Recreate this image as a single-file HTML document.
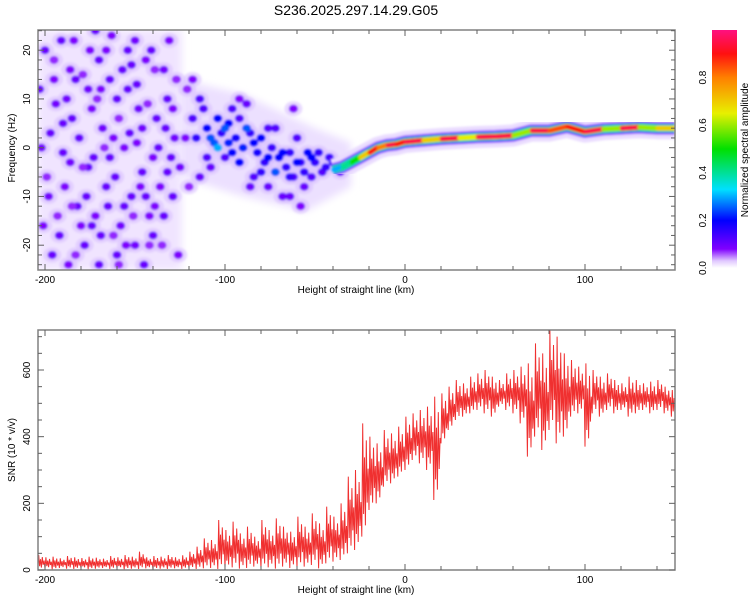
<!DOCTYPE html>
<html><head><meta charset="utf-8"><style>
body{margin:0;background:#fff;}
svg text{font-family:"Liberation Sans",sans-serif;fill:#000;}
</style></head><body>
<svg id="chart" width="750" height="600" viewBox="0 0 750 600" xmlns="http://www.w3.org/2000/svg">
<defs>
<linearGradient id="cmap" x1="0" y1="1" x2="0" y2="0">
<stop offset="0" stop-color="#ffffff"/><stop offset="0.03" stop-color="#e0c8ff"/>
<stop offset="0.08" stop-color="#8000ff"/><stop offset="0.2" stop-color="#0000ff"/>
<stop offset="0.33" stop-color="#00e0ff"/><stop offset="0.5" stop-color="#00e000"/>
<stop offset="0.65" stop-color="#e8f000"/><stop offset="0.8" stop-color="#ff8000"/>
<stop offset="0.9" stop-color="#ff1010"/><stop offset="1" stop-color="#ff1080"/>
</linearGradient>
<filter id="blur"><feGaussianBlur stdDeviation="1"/></filter>
<filter id="blur4"><feGaussianBlur stdDeviation="4"/></filter>
<clipPath id="clipTop"><rect x="38" y="30" width="637" height="240"/></clipPath>
<clipPath id="clipBot"><rect x="38" y="330" width="637" height="240"/></clipPath>
</defs>
<text x="356" y="15" font-size="14" text-anchor="middle">S236.2025.297.14.29.G05</text>
<g id="topPanel"></g>
<g id="botPanel"></g>
<g id="cbarPanel"></g>
</svg>
<script>
// ---- data ----
const snrBinStart = -204, snrBinStep = 4;
const snrHi = [45,38,40,35,42,38,36,40,37,34,42,38,45,40,55,38,42,40,45,38,44,
 55,70,95,90,150,120,145,110,130,100,150,120,155,130,115,160,
 130,170,140,190,160,200,280,300,
 440,400,380,420,410,430,
 460,470,480,490,520,530,550,570,560,580,590,600,580,570,590,
 600,610,620,680,650,720,700,650,630,610,
 620,600,580,590,570,560,580,570,560,565,570,550,540];
const snrLo = [3,5,2,6,4,3,5,2,4,6,3,5,2,4,3,5,2,4,3,5,3,
 4,3,5,6,3,5,8,4,6,10,5,8,4,10,6,8,
 10,15,5,20,25,30,50,60,
 100,180,200,250,260,280,
 300,330,320,300,210,380,420,450,460,470,480,470,460,490,480,
 470,440,340,400,360,420,380,400,460,470,
 370,470,460,480,470,480,460,470,480,470,480,470,460];
const ridgeX = [-40,-35,-30,-25,-20,-15,-10,-5,0,10,20,30,40,50,60,70,80,90,100,110,120,130,140,150];
const ridgeF = [-4.5,-4,-3,-2,-1,0,0.5,0.7,1.2,1.5,1.8,2,2.2,2.3,2.5,3.5,3.5,4.3,3.3,3.8,4,4.2,4,4];
const ridgeA = [0.3,0.4,0.5,0.7,0.9,0.8,0.95,0.9,0.95,0.7,0.95,0.65,0.95,0.95,0.6,0.95,0.85,0.9,0.95,0.6,0.95,0.6,0.7,0.95];
const blobs = [
[-200,20,0.1],[-195,14,0.08],[-190,5,0.1],[-186,-3,0.09],[-182,-12,0.1],[-178,-20,0.1],[-174,8,0.08],[-170,18,0.1],
[-166,-8,0.1],[-162,2,0.08],[-158,-16,0.09],[-154,12,0.1],[-150,22,0.09],[-146,-5,0.1],[-142,-14,0.08],[-138,6,0.1],
[-134,16,0.09],[-130,-2,0.1],[-126,-22,0.08],[-198,-10,0.09],[-192,-18,0.1],[-188,10,0.09],[-184,22,0.08],[-176,-4,0.1],
[-172,-14,0.08],[-168,4,0.09],[-164,14,0.1],[-160,-22,0.1],[-156,0,0.08],[-152,-10,0.1],[-148,8,0.09],[-144,18,0.08],
[-140,-18,0.1],[-136,-8,0.08],[-132,10,0.1],[-128,2,0.09],[-202,0,0.09],[-180,-16,0.08],[-170,-24,0.1],[-160,10,0.1],
[-150,-20,0.09],[-140,-2,0.08],[-196,-22,0.1],[-186,16,0.08],[-176,12,0.09],[-166,20,0.08],[-156,-12,0.1],[-146,4,0.09],
[-203,12,.1],[-199,-6,.07],[-197,3,.1],[-193,-14,.07],[-191,22,.1],[-189,-8,.08],[-185,6,.1],[-183,-22,.07],[-181,2,.1],
[-179,15,.07],[-177,-10,.1],[-175,20,.08],[-173,-2,.1],[-171,10,.07],[-169,-18,.1],[-167,0,.07],[-165,-12,.1],[-163,23,.08],
[-161,-6,.1],[-159,6,.07],[-157,16,.1],[-155,-20,.08],[-153,3,.1],[-151,-14,.07],[-149,13,.1],[-147,-8,.08],[-145,-24,.1],
[-143,9,.07],[-141,20,.1],[-139,-12,.08],[-137,0,.1],[-135,-20,.07],[-133,4,.1],[-131,22,.08],[-129,-10,.1],[-127,14,.07],
[-125,-4,.09],[-201,-16,.08],[-194,9,.09],[-187,-24,.08],[-183,14,.1],[-179,-4,.07],[-174,-16,.1],[-169,12,.08],[-164,-2,.1],
[-159,-24,.07],[-154,20,.1],[-149,1,.08],[-144,-10,.1],[-139,16,.07],[-134,-14,.1],[-129,8,.08],[-195,18,.07],[-190,-1,.1],
[-185,-12,.07],[-172,24,.1],[-162,-18,.07],[-152,17,.1],[-142,-20,.07],[-132,-5,.1],[-122,2,.08],[-120,-8,.07],[-121,12,.07],
[-118,6,0.12],[-114,10,0.12],[-110,4,0.2],[-106,1,0.25],[-102,3,0.15],[-98,5,0.2],[-94,2,0.18],[-90,0,0.22],
[-86,3,0.15],[-82,-1,0.18],[-78,-3,0.15],[-74,0,0.14],[-70,-2,0.2],[-66,-4,0.15],[-62,-6,0.12],[-58,-3,0.14],
[-54,-1,0.2],[-50,-3,0.15],[-46,-5,0.12],[-42,-2,0.14],[-100,-2,0.12],[-92,6,0.12],[-84,-6,0.12],[-76,-8,0.1],
[-68,-10,0.1],[-60,2,0.12],[-108,-4,0.1],[-88,9,0.1],[-72,4,0.12],[-64,-1,0.15],
[-116,2,.15],[-112,8,.12],[-104,6,.2],[-96,-1,.2],[-96,8,.12],[-92,-3,.2],[-88,4,.25],[-84,1,.2],[-80,2,.2],[-80,-5,.15],
[-76,-2,.2],[-72,-5,.25],[-68,-1,.2],[-64,-6,.15],[-60,-3,.2],[-56,-5,.15],[-52,-2,.2],[-48,-1,.15],[-44,-4,.15],[-40,-3,.15],
[-36,-5,.1],[-56,-8,.1],[-64,-10,.1],[-76,4,.12],[-108,2,.25],[-104,0,.3],[-100,4,.25],[-98,1,.22],[-110,-2,.12],[-114,-6,.1],
[-86,-8,.1],[-58,-12,.08],[-52,-6,.12],[-62,8,.08],[-92,10,.08],[-118,14,.08]];
// ---- scales ----
const NS='http://www.w3.org/2000/svg';
function mk(tag,attrs,parent){const e=document.createElementNS(NS,tag);for(const k in attrs)e.setAttribute(k,attrs[k]);parent.appendChild(e);return e;}
const X0=38,X1=675;
const xs=v=>45+(v+200)*1.8;
const fy=f=>147.7-f*4.875;
const sy=v=>570-v/3;
function cmap(a){const st=[[0,[255,255,255]],[0.03,[224,200,255]],[0.08,[128,0,255]],[0.2,[0,0,255]],[0.33,[0,224,255]],[0.5,[0,224,0]],[0.65,[232,240,0]],[0.8,[255,128,0]],[0.9,[255,16,16]],[1,[255,16,128]]];
 for(let i=1;i<st.length;i++){if(a<=st[i][0]){const t=(a-st[i-1][0])/(st[i][0]-st[i-1][0]);const c=st[i-1][1].map((v,j)=>Math.round(v+(st[i][1][j]-v)*t));return `rgb(${c})`;}}return 'rgb(255,16,128)';}
const gTop=document.getElementById('topPanel'), gBot=document.getElementById('botPanel'), gCb=document.getElementById('cbarPanel');
// ---- spectrogram ----
const hm=mk('g',{'clip-path':'url(#clipTop)'},gTop);


mk('rect',{x:X0,y:30,width:xs(-124)-X0,height:240,fill:'#f0e4ff',filter:'url(#blur4)'},hm);
mk('path',{d:`M${xs(-125)},${fy(14)} L${xs(-90)},${fy(11)} L${xs(-50)},${fy(4)} L${xs(-30)},${fy(1)} L${xs(-30)},${fy(-8)} L${xs(-55)},${fy(-13)} L${xs(-90)},${fy(-10)} L${xs(-125)},${fy(-6)} Z`,fill:'#ece0ff',filter:'url(#blur4)'},hm);
const bg=mk('g',{filter:'url(#blur)'},hm);
blobs.forEach(b=>{
 mk('ellipse',{cx:xs(b[0]),cy:fy(b[1]),rx:9,ry:7.5,fill:'#d8c0ff',opacity:0.6},bg);
});
blobs.forEach(b=>{
 const e=mk('ellipse',{cx:xs(b[0]),cy:fy(b[1]),rx:4.5,ry:4,fill:cmap(b[2])},bg);
 
 
});
const rg=mk('g',{filter:'url(#blur)'},hm);
const pts=ridgeX.map((x,i)=>xs(x)+','+fy(ridgeF[i])).join(' ');
[[22,'#eadcff'],[13,'#a060ff'],[10,'#2020ff'],[8,'#00d8e8'],[6.5,'#30e030']].forEach(w=>{
 mk('polyline',{points:pts,fill:'none',stroke:w[1],'stroke-width':w[0],'stroke-linejoin':'round'},rg);
});
for(let i=0;i<ridgeX.length-1;i++){
 const s=mk('line',{x1:xs(ridgeX[i])+1,y1:fy(ridgeF[i]),x2:xs(ridgeX[i+1])-1,y2:fy(ridgeF[i+1]),stroke:cmap(ridgeA[i]),'stroke-width':5,'stroke-linecap':'round'},rg);
 
 
}
// frame & ticks
function frame(g,y0,y1){
 const r=mk('rect',{x:X0,y:y0,width:X1-X0,height:y1-y0,fill:'none',stroke:'#808080','stroke-width':1.5},g);
 
 
 for(let v=-200;v<=140;v+=20){const x=xs(v);const L=(v%100===0)?6:4;
  mk('line',{x1:x,y1:y0,x2:x,y2:y0+L,stroke:'#606060'},g);mk('line',{x1:x,y1:y1,x2:x,y2:y1-L,stroke:'#606060'},g);}
 [-200,-100,0,100].forEach(v=>{const t=mk('text',{x:xs(v),y:y1+13,'font-size':10,'text-anchor':'middle'},g);t.textContent=v;
  
  });
 const xl=mk('text',{x:356,y:y1+23,'font-size':10,'text-anchor':'middle'},g);xl.textContent='Height of straight line (km)';
 
 
}
frame(gTop,30,270);
for(let f=-24;f<=24;f+=2){const y=fy(f);const L=(f%10===0)?6:4;
 mk('line',{x1:X0,y1:y,x2:X0+L,y2:y,stroke:'#606060'},gTop);mk('line',{x1:X1,y1:y,x2:X1-L,y2:y,stroke:'#606060'},gTop);}
[-20,-10,0,10,20].forEach(f=>{const t=mk('text',{x:30,y:fy(f),'font-size':10,'text-anchor':'middle',transform:`rotate(-90 30 ${fy(f)})`},gTop);t.textContent=f;
 
 });
const yl=mk('text',{x:15,y:148,'font-size':10,'text-anchor':'middle',transform:'rotate(-90 15 148)'},gTop);yl.textContent='Frequency (Hz)';


// ---- SNR ----
const lg=mk('g',{'clip-path':'url(#clipBot)'},gBot);
const frac=[0,1,0.2,0.7,0.1,0.85,0.3,0.6];
let p=[];
snrHi.forEach((h,i)=>{const x=snrBinStart+i*snrBinStep;const lo=snrLo[i];
 frac.forEach((f,k)=>{p.push(xs(x+k*0.5)+','+sy(lo+(h-lo)*f));});});
const ln=mk('polyline',{points:p.join(' '),fill:'none',stroke:'#f03030','stroke-width':1},lg);


frame(gBot,330,570);
for(let v=0;v<=700;v+=50){const y=sy(v);const L=(v%200===0)?6:4;
 mk('line',{x1:X0,y1:y,x2:X0+L,y2:y,stroke:'#606060'},gBot);mk('line',{x1:X1,y1:y,x2:X1-L,y2:y,stroke:'#606060'},gBot);}
[0,200,400,600].forEach(v=>{const t=mk('text',{x:30,y:sy(v),'font-size':10,'text-anchor':'middle',transform:`rotate(-90 30 ${sy(v)})`},gBot);t.textContent=v;
 
 });
const yl2=mk('text',{x:15,y:450,'font-size':10,'text-anchor':'middle',transform:'rotate(-90 15 450)'},gBot);yl2.textContent='SNR (10 * v/v)';


// ---- colorbar ----
mk('rect',{x:712,y:30,width:25,height:238,fill:'url(#cmap)'},gCb);
[0,0.2,0.4,0.6,0.8].forEach(v=>{const y=268-v*238;const t=mk('text',{x:706,y:y,'font-size':10,'text-anchor':'middle',transform:`rotate(-90 706 ${y})`},gCb);t.textContent=v.toFixed(1);
 
 });
const ct=mk('text',{x:748,y:150,'font-size':10,'text-anchor':'middle',transform:'rotate(-90 748 150)'},gCb);ct.textContent='Normalized spectral amplitude';


</script>
</body></html>
